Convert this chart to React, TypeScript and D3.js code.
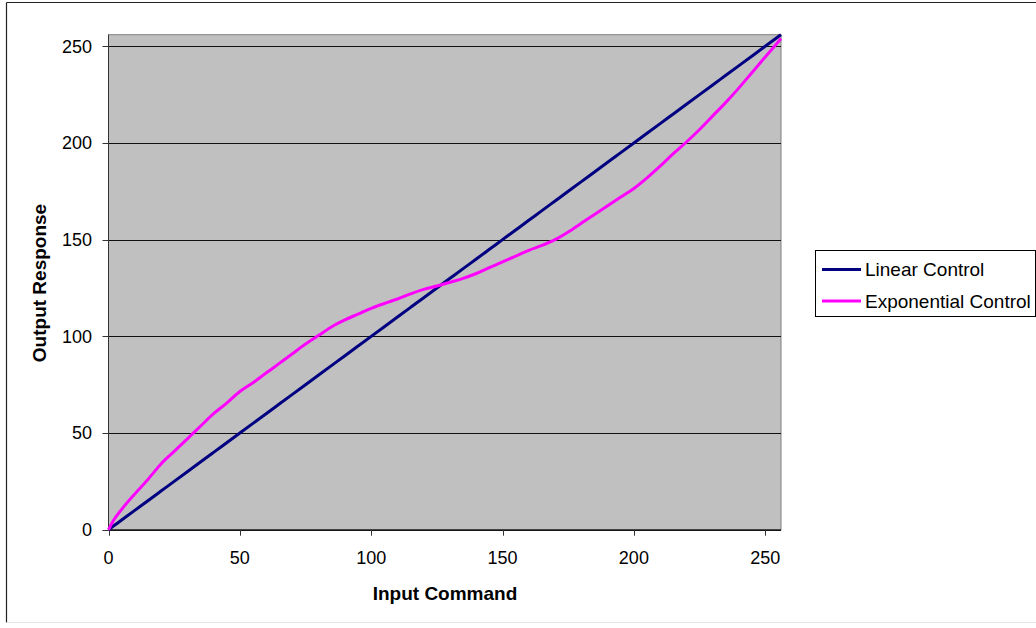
import React from "react";
import * as d3 from "d3";

const inputCommand = [0, 2, 5, 10, 15, 20, 25, 30, 35, 40, 45, 50, 55, 60, 65, 70, 75, 80, 85, 90, 95, 100, 105, 110, 115, 120, 125, 130, 135, 140, 145, 150, 155, 160, 165, 170, 175, 180, 185, 190, 195, 200, 205, 210, 215, 220, 225, 230, 235, 240, 245, 250, 256];
const linearControl = [0, 2, 5, 10, 15, 20, 25, 30, 35, 40, 45, 50, 55, 60, 65, 70, 75, 80, 85, 90, 95, 100, 105, 110, 115, 120, 125, 130, 135, 140, 145, 150, 155, 160, 165, 170, 175, 180, 185, 190, 195, 200, 205, 210, 215, 220, 225, 230, 235, 240, 245, 250, 256];
const exponentialControl = [0, 5, 10.5, 18.5, 26, 34, 40.5, 47, 53.5, 60, 65.5, 71.5, 76, 81, 86, 91, 96, 100.5, 105, 108.5, 111.5, 114.5, 117, 119.3, 122, 124.3, 126, 128, 130, 132.5, 135.5, 138.5, 141.5, 144.5, 147, 150, 154, 158.5, 163, 167.5, 172, 176.5, 182, 188, 194.5, 200.5, 207, 214, 221, 228.5, 236.5, 244.5, 254];
const xTicks = [0, 50, 100, 150, 200, 250];
const yTicks = [0, 50, 100, 150, 200, 250];
const seriesNames = ["Linear Control", "Exponential Control"];
const seriesColors = ["#000080", "#FF00FF"];

const FONT = "'Liberation Sans', Arial, sans-serif";

export default function App() {
  const left = 108.5, right = 781, top = 34.7, bottom = 529.7;
  const x = d3.scaleLinear().domain([0, 256]).range([left, right]);
  const y = d3.scaleLinear().domain([0, 256]).range([bottom, top]);
  const series = [linearControl, exponentialControl];
  const line = (vals: number[]) =>
    d3.line<number>().x((_, i) => x(inputCommand[i])).y((d) => y(d)).curve(d3.curveMonotoneX)(vals) || "";

  return (
    <svg width={1036} height={628} style={{ position: "absolute", left: 0, top: 0, background: "#fff" }} fontFamily={FONT}>
      {/* outer chart border */}
      <line x1={6.5} y1={2.5} x2={1036} y2={2.5} stroke="#222" strokeWidth={1.2} />
      <line x1={6.5} y1={2.5} x2={6.5} y2={622.5} stroke="#222" strokeWidth={1.2} />
      <line x1={6.5} y1={622.5} x2={1036} y2={622.5} stroke="#e6e6e6" strokeWidth={1} />

      {/* plot area */}
      <rect x={left} y={top} width={right - left} height={bottom - top} fill="#C0C0C0" stroke="#808080" strokeWidth={1} />
      {yTicks.map((t) => (
        <line key={"g" + t} x1={left} x2={right} y1={Math.round(y(t)) + 0.5} y2={Math.round(y(t)) + 0.5} stroke="#111" strokeWidth={1} />
      ))}
      {/* axes */}
      <line x1={left} x2={left} y1={top} y2={bottom} stroke="#333" strokeWidth={1} />
      <line x1={left} x2={right} y1={bottom} y2={bottom} stroke="#333" strokeWidth={1} />
      {yTicks.map((t) => (
        <g key={"yt" + t}>
          <line x1={left - 6} x2={left} y1={Math.round(y(t)) + 0.5} y2={Math.round(y(t)) + 0.5} stroke="#333" />
          <text x={92} y={y(t)} dy="0.35em" textAnchor="end" fontSize={18} fill="#000">{t}</text>
        </g>
      ))}
      {xTicks.map((t) => (
        <g key={"xt" + t}>
          <line x1={Math.round(x(t)) + 0.5} x2={Math.round(x(t)) + 0.5} y1={bottom} y2={bottom + 6} stroke="#333" />
          <text x={x(t)} y={564} textAnchor="middle" fontSize={18} fill="#000">{t}</text>
        </g>
      ))}

      {/* series */}
      {series.map((vals, i) => (
        <path key={seriesNames[i]} d={line(vals)} fill="none" stroke={seriesColors[i]} strokeWidth={3} strokeLinejoin="round" />
      ))}

      {/* titles */}
      <text x={445} y={600} textAnchor="middle" fontSize={19} fontWeight="bold" fill="#000">Input Command</text>
      <text transform="translate(46,283) rotate(-90)" textAnchor="middle" fontSize={19} fontWeight="bold" fill="#000">Output Response</text>

      {/* legend */}
      <rect x={815.5} y={250.5} width={220} height={66} fill="#fff" stroke="#000" strokeWidth={1} />
      {seriesNames.map((n, i) => (
        <g key={"lg" + n}>
          <line x1={822} x2={861} y1={269.5 + i * 31.5} y2={269.5 + i * 31.5} stroke={seriesColors[i]} strokeWidth={3} />
          <text x={865} y={269.5 + i * 31.5} dy="0.35em" fontSize={19} fill="#000">{n}</text>
        </g>
      ))}
    </svg>
  );
}
